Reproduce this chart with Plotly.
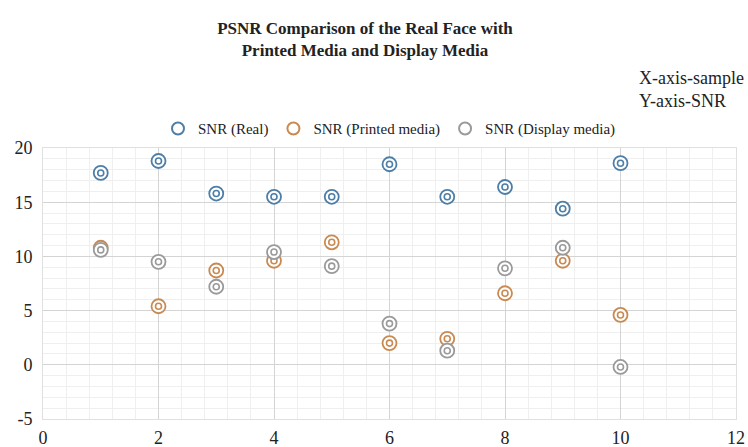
import plotly.graph_objects as go

samples = [1, 2, 3, 4, 5, 6, 7, 8, 9, 10]
snr_real = [17.7, 18.8, 15.8, 15.5, 15.5, 18.5, 15.5, 16.4, 14.4, 18.6]
snr_printed = [10.8, 5.4, 8.7, 9.6, 11.3, 2.0, 2.4, 6.6, 9.6, 4.6]
snr_display = [10.6, 9.5, 7.2, 10.4, 9.1, 3.8, 1.3, 8.9, 10.8, -0.2]

y_tickvals = [-5, 0, 5, 10, 15, 20]
y_ticktext = ["-5", "0", "5", "10", "15", "20"]

series = [
    ("SNR (Real)", snr_real, "#4d7ea8"),
    ("SNR (Printed media)", snr_printed, "#c98a52"),
    ("SNR (Display media)", snr_display, "#9a9a9a"),
]

fig = go.Figure()
for name, vals, col in series:
    fig.add_trace(go.Scatter(
        x=samples, y=vals, mode="markers", name=name, legendgroup=name,
        marker=dict(symbol="circle", size=14, color="white",
                    line=dict(color=col, width=1.8)),
    ))
    fig.add_trace(go.Scatter(
        x=samples, y=vals, mode="markers", name=name, legendgroup=name,
        showlegend=False,
        marker=dict(symbol="circle-open", size=6, color=col,
                    line=dict(color=col, width=1.6)),
    ))

font_family = "Liberation Serif, Times New Roman, serif"
L, R, T, B = 43, 12, 148, 28
plot_w = 748 - L - R
plot_h = 447 - T - B

fig.update_layout(
    width=748, height=447,
    paper_bgcolor="white", plot_bgcolor="white",
    margin=dict(l=L, r=R, t=T, b=B, autoexpand=False),
    font=dict(family=font_family, color="#222222"),
    title=dict(
        text="<b>PSNR Comparison of the Real Face with<br>Printed Media and Display Media</b>",
        x=365 / 748, xanchor="center", y=1 - 34 / 447, yanchor="top",
        font=dict(size=17, family=font_family, color="#222222"),
    ),
    legend=dict(
        orientation="h", x=0.5, xanchor="center", y=1.01, yanchor="bottom",
        font=dict(size=15, family=font_family, color="#222222"), itemwidth=30,
        itemsizing="constant", traceorder="normal", tracegroupgap=0,
    ),
    showlegend=True,
    annotations=[
        dict(text="X-axis-sample<br>Y-axis-SNR", xref="paper", yref="paper",
             x=(746 - L) / plot_w, xanchor="right", y=(447 - B - 89) / plot_h,
             yanchor="middle", showarrow=False, align="left",
             font=dict(size=18, family=font_family, color="#222222")),
    ],
)

fig.update_xaxes(
    range=[0, 12], dtick=2, tick0=0, automargin=False,
    showgrid=True, gridcolor="#d4d4d4", gridwidth=1,
    minor=dict(dtick=0.4, showgrid=True, gridcolor="#efefef", gridwidth=1),
    zeroline=False, showline=True, linecolor="#e0e0e0", mirror=True,
    ticks="", tickfont=dict(size=18, family=font_family, color="#222222"),
    ticklabelstandoff=2,
)
fig.update_yaxes(
    range=[-5, 20], tickvals=y_tickvals, ticktext=y_ticktext, automargin=False,
    showgrid=True, gridcolor="#d4d4d4", gridwidth=1,
    minor=dict(dtick=1, tick0=0, showgrid=True, gridcolor="#efefef", gridwidth=1),
    zeroline=False, showline=True, linecolor="#e0e0e0", mirror=True,
    ticks="", tickfont=dict(size=18, family=font_family, color="#222222"),
    ticklabelstandoff=6,
)

fig.write_html(
    "out.html",
    config={"displayModeBar": False},
    post_script="document.body.style.margin='0';document.body.style.overflow='hidden';",
)
